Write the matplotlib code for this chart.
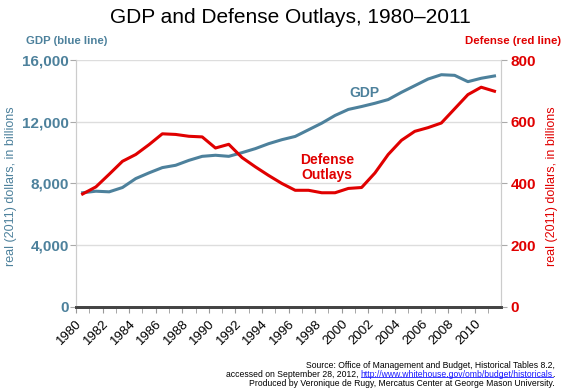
import matplotlib
matplotlib.use("Agg")
import matplotlib.pyplot as plt
from matplotlib.lines import Line2D

plt.rcParams['font.family'] = ['Liberation Sans', 'DejaVu Sans']

years = list(range(1980, 2012))
gdp = [7400, 7500, 7460, 7740, 8320, 8690, 9030, 9180, 9500, 9760,
       9830, 9760, 10000, 10260, 10580, 10840, 11050, 11480, 11910, 12410,
       12800, 12990, 13200, 13440, 13910, 14340, 14770, 15050, 15010, 14600,
       14820, 14970]
defense = [366, 389, 430, 472, 494, 526, 561, 559, 553, 551,
           515, 527, 484, 454, 426, 400, 378, 378, 370, 370,
           384, 387, 434, 494, 540, 569, 581, 596, 642, 688,
           712, 699]
label_years = list(range(1980, 2012, 2))
gdp_ticks = [0, 4000, 8000, 12000, 16000]
def_ticks = [0, 200, 400, 600, 800]

blue = '#4d819c'
red = '#e00000'
grid_c = '#dddddd'

fig = plt.figure(figsize=(5.8, 3.9), dpi=100)
ax = fig.add_axes([0.131, 0.213, 0.733, 0.633])
ax2 = ax.twinx()

x = [y + 0.5 for y in years]
ax.plot(x, gdp, color=blue, lw=2.2, zorder=3)
ax2.plot(x, defense, color=red, lw=2.2, zorder=3)

ax.set_xlim(1980, 2012)
ax.set_ylim(0, 16000)
ax2.set_ylim(0, 800)

ax.set_yticks(gdp_ticks)
ax.set_yticklabels([f'{v:,}' for v in gdp_ticks], fontsize=11, fontweight='bold', color=blue)
ax2.set_yticks(def_ticks)
ax2.set_yticklabels([str(v) for v in def_ticks], fontsize=11, fontweight='bold', color=red)

ax.set_xticks(years, minor=True)
ax.set_xticks(label_years)
ax.set_xticklabels([str(y) for y in label_years], rotation=45, ha='right',
                   rotation_mode='anchor', fontsize=9.5)
ax.tick_params(axis='x', which='both', length=4, color='#999999', pad=4)
ax.tick_params(axis='y', length=4, color='#aaaaaa', pad=1)
ax2.tick_params(axis='y', length=4, color='#aaaaaa', pad=3)

ax.grid(axis='y', color=grid_c, lw=1, zorder=0)
for a in (ax, ax2):
    a.spines['top'].set_visible(False)
    a.spines['left'].set_color('#cccccc')
    a.spines['right'].set_color('#cccccc')
    a.spines['bottom'].set_color('#444444')
    a.spines['bottom'].set_linewidth(2)

ax.set_ylabel('real (2011) dollars, in billions', color=blue, fontsize=9)
ax.yaxis.set_label_coords(-0.139, 0.49)
ax2.set_ylabel('real (2011) dollars, in billions', color=red, fontsize=9)
ax2.yaxis.set_label_coords(1.106, 0.49)

fig.text(0.5, 0.955, 'GDP and Defense Outlays, 1980\u20132011', ha='center', va='center', fontsize=15)
fig.text(0.045, 0.895, 'GDP (blue line)', color=blue, fontsize=8.2, fontweight='bold', ha='left', va='center')
fig.text(0.967, 0.895, 'Defense (red line)', color=red, fontsize=8.2, fontweight='bold', ha='right', va='center')

ax.text(2001.7, 13850, 'GDP', color=blue, fontsize=10, fontweight='bold', ha='center', va='center')
ax.text(1998.9, 9050, 'Defense\nOutlays', color=red, fontsize=10, fontweight='bold', ha='center', va='center',
        linespacing=1.1)

fs = 6.2
fig.text(0.957, 0.064, 'Source: Office of Management and Budget, Historical Tables 8.2,',
         fontsize=fs, ha='right', va='center')
dot = fig.text(0.957, 0.040, '.', fontsize=fs, ha='right', va='center')
url = ax.annotate('http://www.whitehouse.gov/omb/budget/historicals', xy=(0, 0), xycoords=dot,
                  ha='right', va='bottom', fontsize=fs, color='#1a1aff', annotation_clip=False)
ax.annotate('accessed on September 28, 2012, ', xy=(0, 0), xycoords=url,
            ha='right', va='bottom', fontsize=fs, annotation_clip=False)
fig.text(0.957, 0.016, 'Produced by Veronique de Rugy, Mercatus Center at George Mason University.',
         fontsize=fs, ha='right', va='center')

fig.canvas.draw()
bb = url.get_window_extent()
fig.add_artist(Line2D([bb.x0 / fig.bbox.width, bb.x1 / fig.bbox.width],
                      [(bb.y0 + 1.5) / fig.bbox.height] * 2, color='#1a1aff', lw=0.6))

fig.savefig('out.png', dpi=100)
